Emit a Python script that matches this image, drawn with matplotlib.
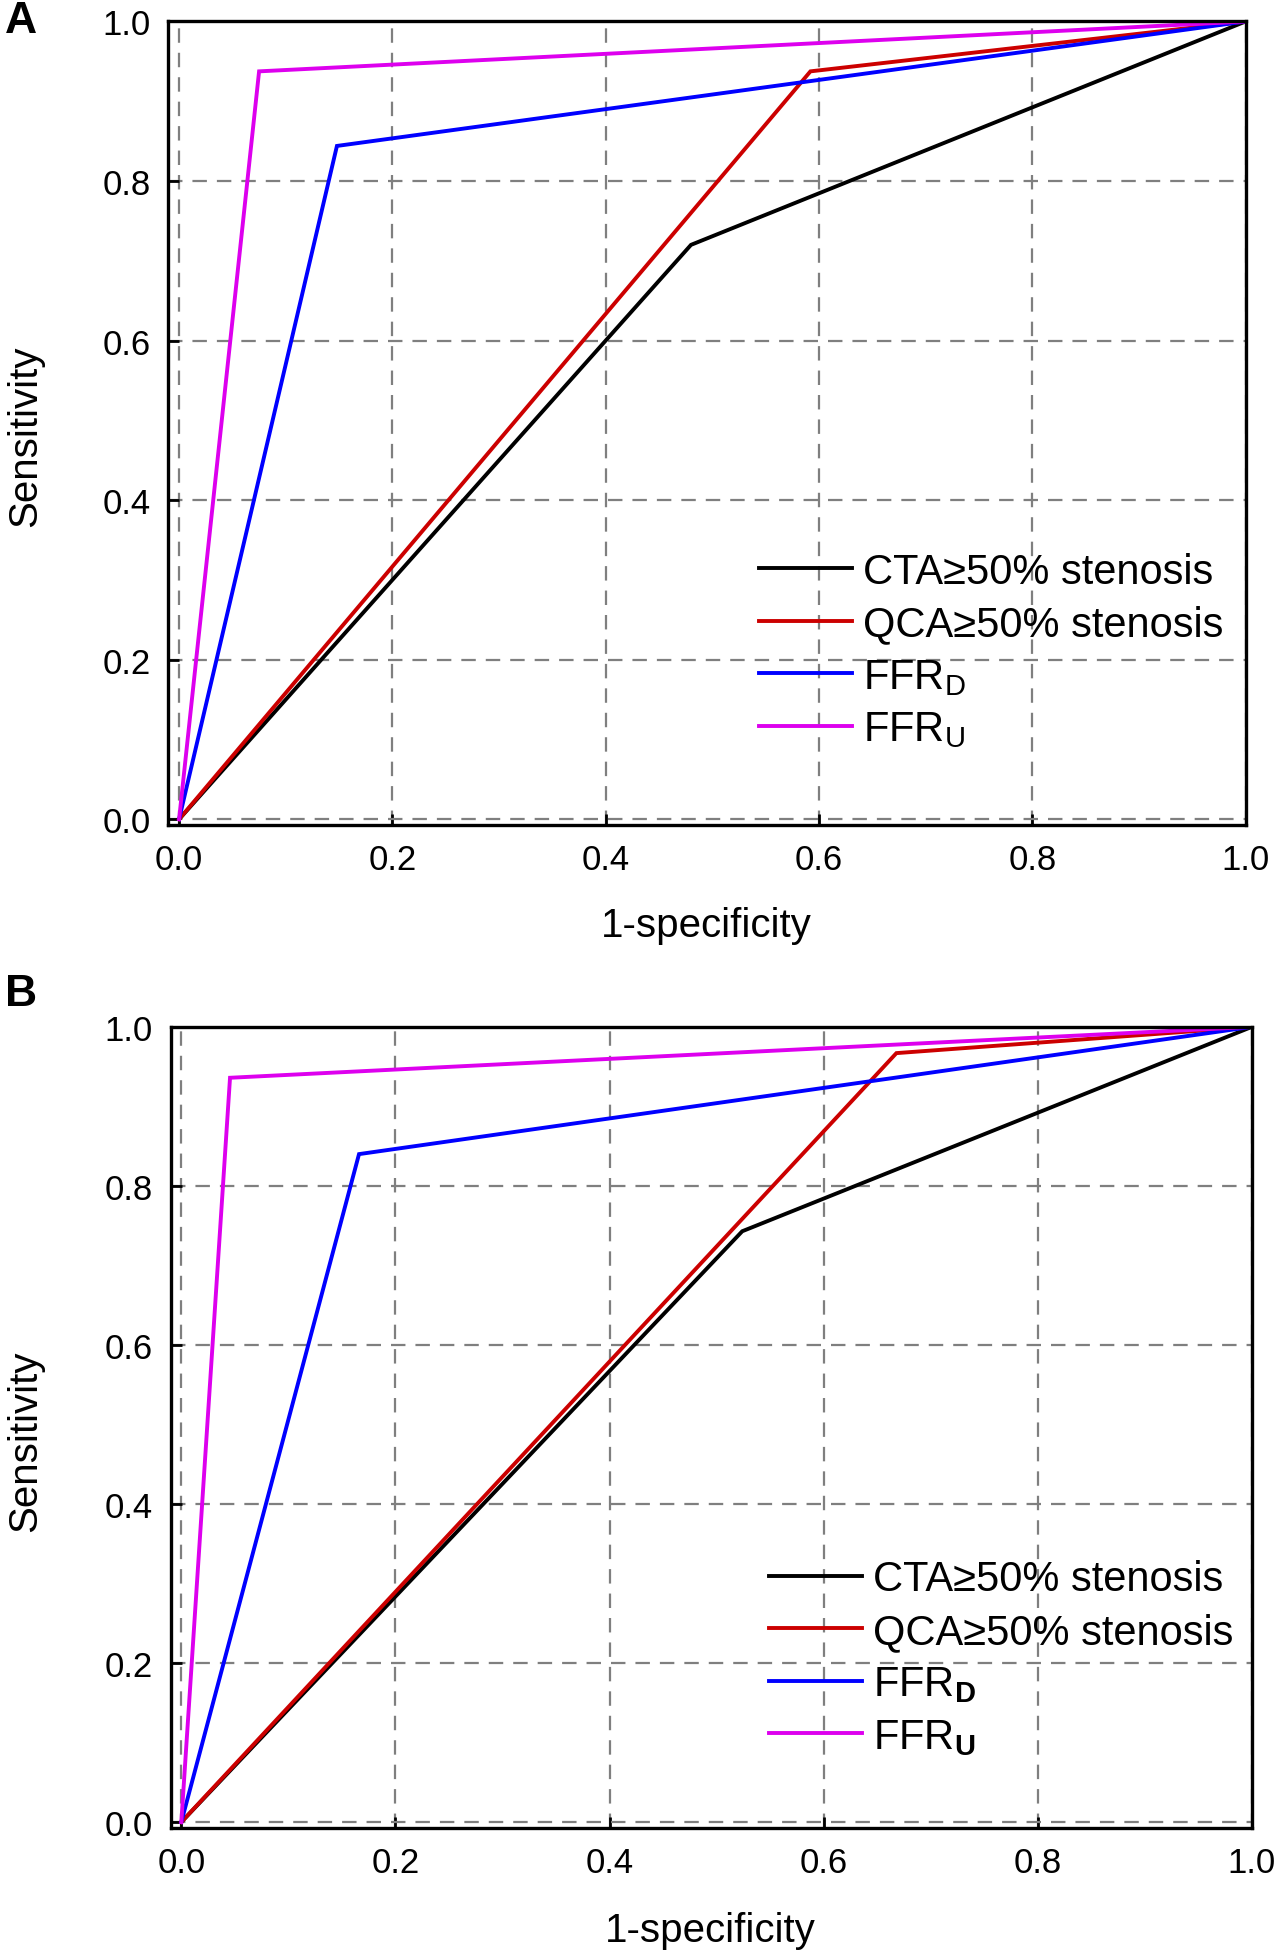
import matplotlib
matplotlib.use("Agg")
import matplotlib.pyplot as plt

plt.rcParams['font.family'] = ['Liberation Sans', 'DejaVu Sans']
plt.rcParams['mathtext.fontset'] = 'custom'
plt.rcParams['mathtext.rm'] = 'Liberation Sans'
plt.rcParams['mathtext.it'] = 'Liberation Sans:italic'
plt.rcParams['mathtext.bf'] = 'Liberation Sans:bold'

# ---- data (1-specificity, sensitivity) ----
series_names_A = ["CTA≥50% stenosis", "QCA≥50% stenosis",
                  r"FFR$_\mathrm{D}$", r"FFR$_\mathrm{U}$"]
series_names_B = ["CTA≥50% stenosis", "QCA≥50% stenosis",
                  r"FFR$_\mathbf{D}$", r"FFR$_\mathbf{U}$"]
colors = ["#000000", "#CC0000", "#0000FF", "#DD00EE"]

A_cta_x = [0.0, 0.48, 1.0]
A_cta_y = [0.0, 0.72, 1.0]
A_qca_x = [0.0, 0.592, 1.0]
A_qca_y = [0.0, 0.9375, 1.0]
A_ffrd_x = [0.0, 0.148, 1.0]
A_ffrd_y = [0.0, 0.844, 1.0]
A_ffru_x = [0.0, 0.075, 1.0]
A_ffru_y = [0.0, 0.9375, 1.0]

B_cta_x = [0.0, 0.524, 1.0]
B_cta_y = [0.0, 0.743, 1.0]
B_qca_x = [0.0, 0.668, 1.0]
B_qca_y = [0.0, 0.967, 1.0]
B_ffrd_x = [0.0, 0.166, 1.0]
B_ffrd_y = [0.0, 0.840, 1.0]
B_ffru_x = [0.0, 0.0455, 1.0]
B_ffru_y = [0.0, 0.936, 1.0]

ticks = [0.0, 0.2, 0.4, 0.6, 0.8, 1.0]
tick_labels = ["0.0", "0.2", "0.4", "0.6", "0.8", "1.0"]

fig = plt.figure(figsize=(12.78, 19.56), dpi=100)

def make_panel(rect, xs, ys, names, leg_anchor):
    ax = fig.add_axes(rect)
    for x, y, c, n in zip(xs, ys, colors, names):
        ax.plot(x, y, color=c, lw=2.8, label=n, zorder=3, solid_joinstyle='miter')
    ax.set_xlim(-0.01, 1.0)
    ax.set_ylim(-0.007, 1.0)
    ax.set_xticks(ticks)
    ax.set_xticklabels(tick_labels)
    ax.set_yticks(ticks)
    ax.set_yticklabels(tick_labels)
    ax.grid(True, color='#7f7f7f', linestyle=(0, (6.5, 4.5)), linewidth=1.6, zorder=1)
    ax.set_axisbelow(True)
    for s in ax.spines.values():
        s.set_linewidth(2.4)
        s.set_zorder(5)
    ax.tick_params(direction='in', length=8, width=2, labelsize=25,
                   top=False, right=False)
    ax.tick_params(axis='x', pad=13)
    ax.tick_params(axis='y', pad=13)
    leg = ax.legend(loc='upper left', bbox_to_anchor=leg_anchor, frameon=False,
                    fontsize=30, handlelength=2.25, handletextpad=0.25,
                    labelspacing=0.3, borderpad=0, borderaxespad=0)
    for l in leg.get_lines():
        l.set_linewidth(2.8)
    return ax

axA = make_panel([0.1318, 0.5778, 0.8428, 0.4107],
                 [A_cta_x, A_qca_x, A_ffrd_x, A_ffru_x],
                 [A_cta_y, A_qca_y, A_ffrd_y, A_ffru_y],
                 series_names_A, (0.548, 0.34))
axB = make_panel([0.1335, 0.0651, 0.8460, 0.4094],
                 [B_cta_x, B_qca_x, B_ffrd_x, B_ffru_x],
                 [B_cta_y, B_qca_y, B_ffrd_y, B_ffru_y],
                 series_names_B, (0.553, 0.335))

fig.text(0.553, 0.5268, "1-specificity", fontsize=29, ha='center', va='center')
fig.text(0.556, 0.0128, "1-specificity", fontsize=29, ha='center', va='center')
fig.text(0.0195, 0.777, "Sensitivity", fontsize=29, ha='center', va='center', rotation=90)
fig.text(0.0195, 0.263, "Sensitivity", fontsize=29, ha='center', va='center', rotation=90)
fig.text(0.0166, 0.989, "A", fontsize=32, fontweight='bold', ha='center', va='center')
fig.text(0.0166, 0.4917, "B", fontsize=32, fontweight='bold', ha='center', va='center')

fig.savefig("out.png", dpi=100)
